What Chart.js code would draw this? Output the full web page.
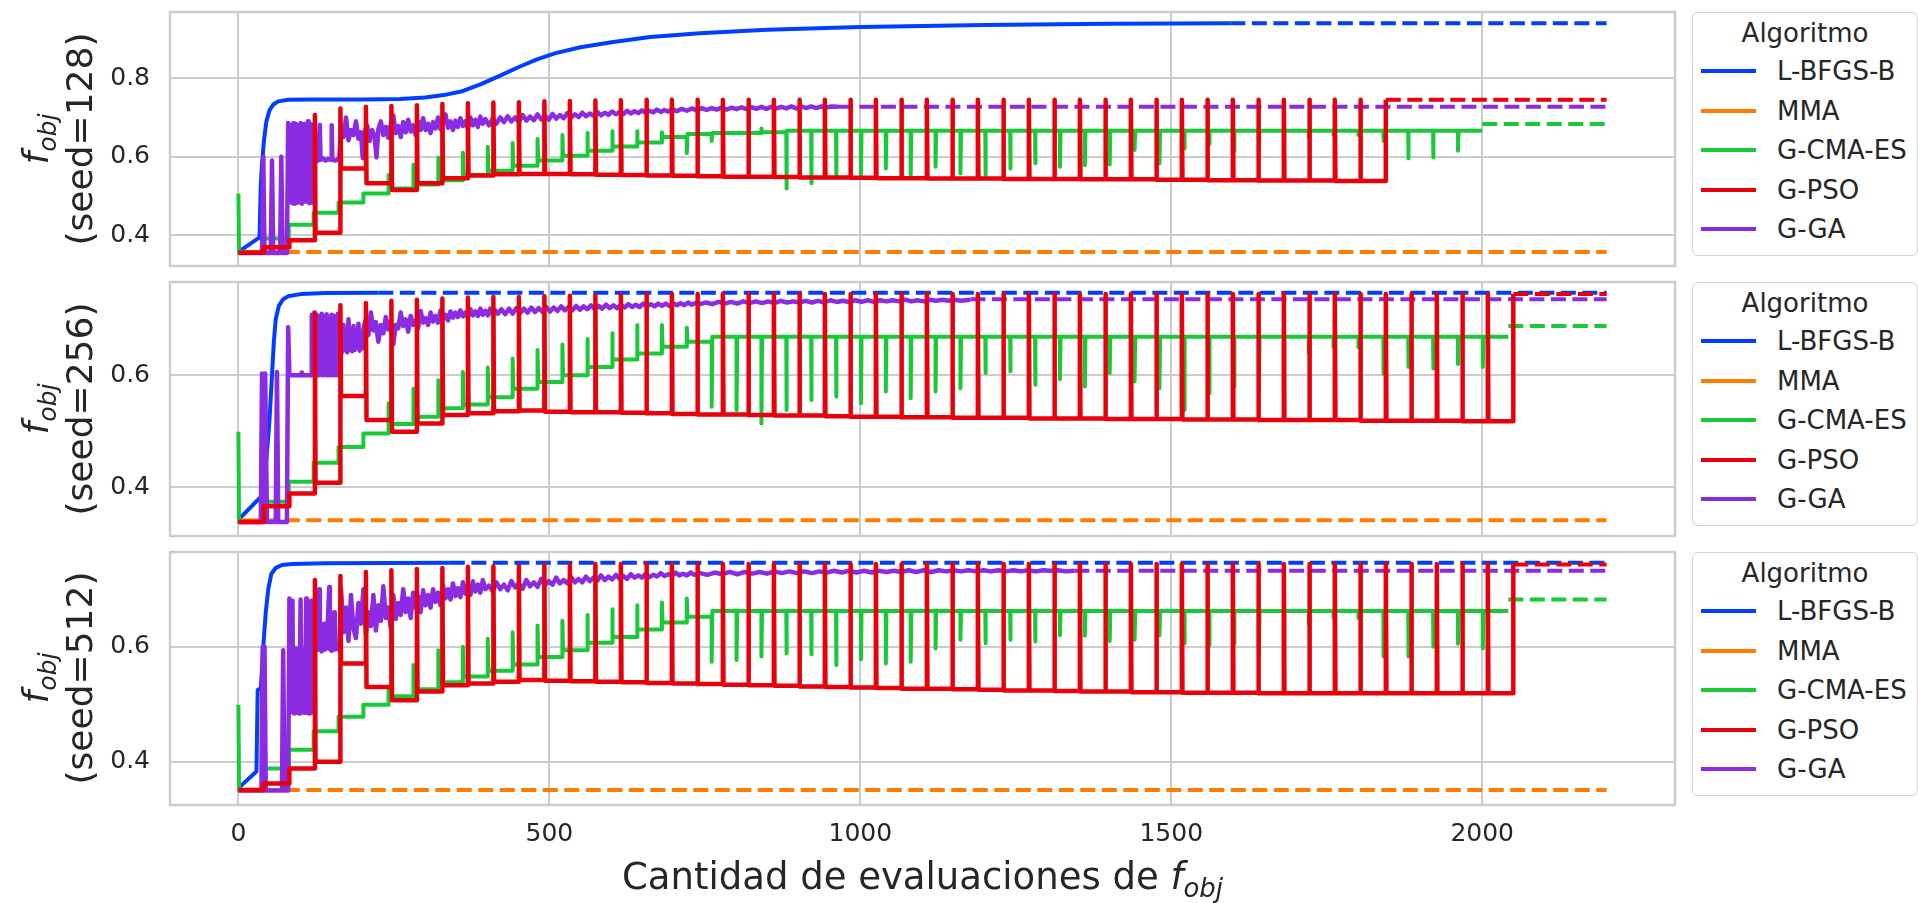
<!DOCTYPE html>
<html>
<head>
<meta charset="utf-8">
<script src="https://cdn.jsdelivr.net/npm/chart.js@4.4.0/dist/chart.umd.min.js"></script>
<style>
  html, body { margin: 0; padding: 0; background: #ffffff; }
  #fig { position: relative; width: 1918px; height: 903px; overflow: hidden;
         font-family: "DejaVu Sans", sans-serif; color: #262626; background: #ffffff; }
  #fig canvas { position: absolute; left: 0; }
  .ylab { position: absolute; width: 254px; height: 88px; line-height: 44px; font-size: 36px;
          text-align: center; white-space: nowrap; transform: rotate(-90deg); }
  .ylab sub, #xlab sub { font-size: 0.7em; vertical-align: -0.3em; line-height: 0; }
  #xlab { position: absolute; left: 170px; width: 1505px; top: 856px; font-size: 37px;
          line-height: 42px; text-align: center; white-space: nowrap; }
  .legend { position: absolute; left: 1692px; width: 226px; height: 244px; box-sizing: border-box;
            border: 1.5px solid #d4d4d4; border-radius: 6px; background: rgba(255,255,255,0.8); }
  .legend .title { position: absolute; left: 0; width: 100%; text-align: center; font-size: 26px;
                   line-height: 30px; }
  .legend .swatch { position: absolute; left: 8px; width: 55px; height: 4px; }
  .legend .label { position: absolute; left: 84px; font-size: 26px; line-height: 30px; white-space: nowrap; }
</style>
</head>
<body>
<div id="fig">
  <canvas id="c128" width="1680" height="274" style="top:2px"></canvas>
  <canvas id="c256" width="1680" height="274" style="top:272px"></canvas>
  <canvas id="c512" width="1680" height="333" style="top:542px"></canvas>
  <div class="ylab" style="left:-69px;top:95px"><i>f</i><sub><i>obj</i></sub><br>(seed=128)</div>
  <div class="ylab" style="left:-69px;top:365px"><i>f</i><sub><i>obj</i></sub><br>(seed=256)</div>
  <div class="ylab" style="left:-69px;top:634px"><i>f</i><sub><i>obj</i></sub><br>(seed=512)</div>
  <div id="xlab">Cantidad de evaluaciones de <i>f</i><sub><i>obj</i></sub></div>
</div>
<script>
// ---- shared axis data ----
const evalTicks = [0, 500, 1000, 1500, 2000];
const evalLimits = [-110, 2310];
const lastEval = 2200;
const algorithms = ['L-BFGS-B', 'MMA', 'G-CMA-ES', 'G-PSO', 'G-GA'];
const seeds = [128, 256, 512];

// Curves given as [evaluation, f_obj] pairs.
// Step tables (G-CMA-ES, G-PSO) as [evaluation, transient, level]: at that evaluation
// the curve shows a one-evaluation transient value, then holds `level`.

// ---------- seed = 128 ----------
const yTicks128 = [0.4, 0.6, 0.8];
const yRange128 = [0.321, 0.969];
const runEnd128 = [1595, 40, 2000, 1845, 964];
const best128 = [0.940, 0.357, 0.683, 0.745, 0.727];
const lbfgsb128 = [[0,0.357],[34,0.394],[36,0.53],[38,0.58],[41,0.64],[45,0.69],[50,0.718],[56,0.733],[64,0.741],
  [80,0.745],[120,0.746],[200,0.746],[260,0.747],[300,0.751],[330,0.757],[360,0.767],[390,0.785],[420,0.806],
  [450,0.828],[480,0.848],[510,0.864],[550,0.879],[600,0.892],[662,0.905],[742,0.915],[850,0.924],[1000,0.931],
  [1200,0.936],[1400,0.939],[1595,0.940]];
const mma128 = [[0,0.357],[40,0.357]];
const cmaes128 = [[0,0.506,0.355],[41,null,0.391],[81,null,0.426],[121,null,0.457],[161,null,0.483],[201,null,0.506],
  [241,0.553,0.519],[281,0.580,0.529],[321,0.598,0.540],[361,0.610,0.553],[401,0.625,0.564],[441,0.635,0.577],
  [481,0.645,0.590],[521,0.655,0.602],[561,0.660,0.615],[601,0.665,0.626],[641,0.665,0.636],[681,0.662,0.650],
  [721,0.609,0.658],[761,0.640,0.660],[801,null,0.660],[841,0.672,0.662],[881,0.519,0.666],[921,0.532,0.666],
  [961,0.553,0.666],[1001,0.553,0.666],[1041,0.570,0.666],[1081,0.553,0.666],[1121,0.574,0.666],[1161,0.557,0.666],
  [1201,0.553,0.666],[1241,0.570,0.666],[1281,0.583,0.666],[1321,0.574,0.666],[1361,0.578,0.666],[1401,0.580,0.666],
  [1441,0.617,0.666],[1481,0.583,0.666],[1521,0.621,0.666],[1561,0.632,0.666],[1601,0.615,0.666],[1641,0.630,0.666],
  [1681,0.604,0.666],[1721,0.650,0.666],[1761,0.655,0.666],[1801,0.655,0.666],[1841,0.640,0.666],[1881,0.596,0.666],
  [1921,0.598,0.666],[1961,0.615,0.666]];
const pso128 = [[0,null,0.355],[41,null,0.369],[82,null,0.387],[123,0.706,0.406],[164,0.723,0.570],[205,0.727,0.532],
  [246,0.729,0.515],[287,0.731,0.532],[328,0.734,0.545],[369,0.736,0.552],[410,0.738,0.555],[451,0.739,0.556],
  [492,0.741,0.556],[533,0.742,0.555],[574,0.743,0.554],[615,0.744,0.553],[656,0.745,0.552],[697,0.745,0.551],
  [738,0.745,0.550],[779,0.745,0.549],[820,0.745,0.549],[861,0.745,0.548],[902,0.745,0.547],[943,0.745,0.547],
  [984,0.745,0.546],[1025,0.745,0.545],[1066,0.745,0.545],[1107,0.745,0.544],[1148,0.745,0.544],[1189,0.745,0.544],
  [1230,0.745,0.543],[1271,0.745,0.543],[1312,0.745,0.543],[1353,0.745,0.542],[1394,0.745,0.542],[1435,0.745,0.542],
  [1476,0.745,0.541],[1517,0.745,0.541],[1558,0.745,0.540],[1599,0.745,0.540],[1640,0.745,0.539],[1681,0.745,0.539],
  [1722,0.745,0.539],[1763,0.745,0.538],[1804,0.745,0.538],[1845,null,0.745]];
const ga128 = [[0,0.354],[38,0.354],[40,0.600],[42,0.354],[52,0.354],[54,0.590],[56,0.354],[67,0.354],[69,0.600],
  [71,0.354],[78,0.354],[80,0.686],[82,0.592],[84,0.680],[85,0.590],[86,0.482],[87,0.592],[88,0.685],[89,0.596],
  [90,0.480],[91,0.592],[92,0.684],[93,0.594],[94,0.482],[95,0.592],[96,0.680],[97,0.590],[98,0.484],[99,0.593],
  [100,0.686],[101,0.592],[102,0.480],[104,0.592],[106,0.683],[107,0.592],[108,0.485],[110,0.592],[112,0.690],
  [113,0.592],[114,0.481],[116,0.592],[117,0.682],[118,0.592],[119,0.483],[121,0.592],[126,0.594],[128,0.590],
  [131,0.681],[132,0.592],[136,0.596],[140,0.590],[144,0.594],[149,0.592],[150,0.680],[151,0.592],[156,0.590],
  [160,0.594],[162,0.592],
  [165,0.672],[169,0.650],[173,0.700],[177,0.642],[181,0.668],[185,0.655],[189,0.690],[193,0.646],[197,0.662],
  [200,0.596],[203,0.664],[207,0.680],[211,0.640],[215,0.668],[219,0.652],[222,0.598],[225,0.670],[229,0.690],
  [233,0.655],[237,0.676],[241,0.648],[245,0.683],[249,0.705],[253,0.660],[257,0.678],[261,0.650],[265,0.688],
  [269,0.662],[273,0.694],[277,0.664],[281,0.680],[285,0.655],[289,0.690],[293,0.668],[297,0.698],[301,0.668],
  [305,0.684],[309,0.660],[313,0.688],[317,0.672],[321,0.700],[325,0.670],[329,0.686],[333,0.708],[337,0.674],
  [341,0.690],[345,0.668],[349,0.692],[353,0.676],[357,0.698],[361,0.678],[365,0.690],[369,0.672],[373,0.700],
  [377,0.680],[381,0.694],[385,0.676],[389,0.702],[393,0.684],[397,0.696],
  [403,0.680],[409,0.698],[415,0.684],[421,0.700],[427,0.688],[433,0.703],[439,0.690],[445,0.700],[451,0.688],
  [457,0.706],[463,0.692],[469,0.702],[475,0.693],[481,0.708],[487,0.695],[493,0.704],[499,0.694],[505,0.709],
  [511,0.697],[517,0.706],[523,0.698],[529,0.711],[535,0.700],[541,0.708],[547,0.701],[553,0.712],[559,0.703],
  [565,0.710],[571,0.704],[577,0.714],[583,0.705],[589,0.712],[595,0.707],[601,0.715],[607,0.708],[613,0.714],
  [619,0.709],[625,0.717],[631,0.710],[637,0.716],[643,0.711],[649,0.718],[655,0.712],[661,0.717],[667,0.713],
  [673,0.720],[679,0.714],[685,0.719],[691,0.715],[697,0.721],
  [705,0.716],[713,0.722],[721,0.717],[729,0.723],[737,0.718],[745,0.724],[753,0.719],[761,0.724],[769,0.720],
  [777,0.725],[785,0.720],[793,0.725],[801,0.721],[809,0.726],[817,0.721],[825,0.726],[833,0.722],[841,0.727],
  [849,0.722],[857,0.727],[865,0.723],[873,0.727],[881,0.723],[889,0.728],[897,0.723],[905,0.728],[913,0.724],
  [921,0.728],[929,0.724],[937,0.728],[945,0.725],[953,0.728],[964,0.727]];

// ---------- seed = 256 ----------
const yTicks256 = [0.4, 0.6];
const yRange256 = [0.313, 0.7666];
const runEnd256 = [225, 40, 2042, 2050, 1177];
const best256 = [0.7475, 0.341, 0.688, 0.745, 0.7357];
const lbfgsb256 = [[0,0.342],[36,0.383],[45,0.45],[50,0.52],[54,0.60],[57,0.66],[60,0.70],[65,0.724],[72,0.736],
  [80,0.741],[100,0.745],[140,0.7468],[225,0.7475]];
const mma256 = [[0,0.341],[40,0.341]];
const cmaes256 = [[0,0.499,0.338],[41,null,0.374],[81,null,0.410],[121,null,0.444],[161,null,0.472],[201,null,0.496],
  [241,0.550,0.513],[281,0.576,0.526],[321,0.591,0.541],[361,0.606,0.548],[401,0.614,0.561],[441,0.630,0.576],
  [481,0.645,0.588],[521,0.655,0.600],[561,0.665,0.615],[601,0.675,0.628],[641,0.690,0.639],[681,0.690,0.651],
  [721,0.685,0.660],[761,0.544,0.669],[801,0.538,0.669],[841,0.514,0.669],[881,0.538,0.669],[921,0.556,0.669],
  [961,0.562,0.669],[1001,0.550,0.669],[1041,0.571,0.669],[1081,0.559,0.669],[1121,0.571,0.669],[1161,0.577,0.669],
  [1201,0.604,0.669],[1241,0.607,0.669],[1281,0.583,0.669],[1321,0.593,0.669],[1361,0.580,0.669],[1401,0.604,0.669],
  [1441,0.589,0.669],[1481,0.577,0.669],[1521,0.538,0.669],[1561,0.568,0.669],[1601,0.580,0.669],[1641,0.577,0.669],
  [1681,0.568,0.669],[1721,0.640,0.669],[1761,0.650,0.669],[1801,0.650,0.669],[1841,0.603,0.669],[1881,0.615,0.669],
  [1921,0.612,0.669],[1961,0.620,0.669],[2001,0.615,0.669]];
const pso256 = [[0,null,0.338],[41,null,0.366],[82,null,0.389],[123,0.710,0.408],[164,0.725,0.563],[205,0.729,0.520],
  [246,0.733,0.499],[287,0.735,0.514],[328,0.737,0.529],[369,0.739,0.532],[410,0.740,0.536],[451,0.740,0.537],
  [492,0.741,0.535],[533,0.742,0.534],[574,0.743,0.534],[615,0.744,0.533],[656,0.745,0.532],[697,0.745,0.531],
  [738,0.745,0.530],[779,0.745,0.530],[820,0.745,0.529],[861,0.745,0.528],[902,0.745,0.528],[943,0.745,0.527],
  [984,0.745,0.526],[1025,0.745,0.526],[1066,0.745,0.525],[1107,0.745,0.525],[1148,0.745,0.524],[1189,0.745,0.524],
  [1230,0.745,0.524],[1271,0.745,0.523],[1312,0.745,0.523],[1353,0.745,0.523],[1394,0.745,0.522],[1435,0.745,0.522],
  [1476,0.745,0.522],[1517,0.745,0.521],[1558,0.745,0.521],[1599,0.745,0.521],[1640,0.745,0.520],[1681,0.745,0.520],
  [1722,0.745,0.520],[1763,0.745,0.520],[1804,0.745,0.519],[1845,0.745,0.519],[1886,0.745,0.519],[1927,0.745,0.519],
  [1968,0.745,0.518],[2009,0.745,0.518],[2050,null,0.745]];
const ga256 = [[0,0.338],[36,0.338],[38,0.603],[41,0.338],[43,0.603],[46,0.338],[60,0.338],[62,0.606],[64,0.338],
  [78,0.338],[80,0.686],[82,0.600],[100,0.600],[102,0.605],[104,0.600],[117,0.600],
  [118,0.708],[119,0.602],[120,0.700],[121,0.600],[122,0.712],[123,0.604],[124,0.695],[125,0.600],[126,0.708],
  [127,0.603],[128,0.690],[129,0.600],[130,0.705],[131,0.602],[132,0.698],[133,0.601],[134,0.710],[135,0.600],
  [136,0.700],[137,0.602],[138,0.706],[139,0.600],[140,0.694],[141,0.603],[142,0.709],[143,0.600],[144,0.700],
  [145,0.602],[146,0.704],[147,0.600],[148,0.690],[149,0.602],[150,0.708],[151,0.600],[152,0.698],[153,0.603],
  [154,0.706],[155,0.600],[156,0.700],[157,0.602],[158,0.695],[159,0.600],[160,0.710],[161,0.601],[162,0.690],
  [163,0.600],[165,0.680],[167,0.642],[169,0.690],[171,0.645],[173,0.676],[175,0.641],[177,0.700],[179,0.646],
  [181,0.672],[183,0.643],[185,0.688],[187,0.645],[189,0.668],[191,0.650],[193,0.692],[195,0.644],[197,0.670],
  [199,0.648],[201,0.684],
  [205,0.700],[209,0.672],[213,0.712],[217,0.680],[221,0.695],[225,0.660],[229,0.690],[233,0.675],[237,0.704],
  [241,0.682],[245,0.696],[249,0.655],[253,0.690],[257,0.684],[261,0.712],[265,0.688],[269,0.700],[273,0.678],
  [277,0.706],[281,0.690],[285,0.698],[289,0.684],[293,0.715],[297,0.694],[301,0.702],[305,0.690],[309,0.712],
  [313,0.696],[317,0.706],[321,0.694],[325,0.716],[329,0.700],[333,0.708],[337,0.698],[341,0.714],[345,0.703],
  [349,0.712],[353,0.704],[357,0.716],[361,0.705],[365,0.712],[369,0.704],[373,0.718],[377,0.707],[381,0.714],
  [385,0.706],[389,0.719],[393,0.708],[397,0.715],[401,0.707],[405,0.719],[409,0.709],[413,0.716],[417,0.710],
  [423,0.718],[429,0.709],[435,0.719],[441,0.710],[447,0.720],[453,0.711],[459,0.719],[465,0.712],[471,0.721],
  [477,0.713],[483,0.720],[489,0.713],[495,0.722],[501,0.714],[507,0.721],[513,0.715],[519,0.723],[525,0.716],
  [531,0.722],[537,0.716],[543,0.724],[549,0.717],[555,0.723],[561,0.718],[567,0.725],[573,0.718],[579,0.724],
  [585,0.719],[591,0.726],[597,0.720],[603,0.725],[609,0.720],[615,0.726],[621,0.721],[627,0.727],[633,0.722],
  [639,0.726],[645,0.722],[651,0.728],[657,0.723],[663,0.727],[669,0.723],[675,0.728],[681,0.724],[687,0.728],
  [693,0.724],[699,0.729],[705,0.725],[711,0.729],[717,0.725],[723,0.730],[729,0.726],[735,0.729],[742,0.727],
  [752,0.730],[762,0.727],[772,0.731],[782,0.728],[792,0.731],[802,0.728],[812,0.732],[822,0.729],[832,0.732],
  [842,0.729],[852,0.732],[862,0.729],[872,0.733],[882,0.730],[892,0.732],[902,0.730],[912,0.733],[922,0.730],
  [932,0.733],[942,0.730],[952,0.734],[962,0.731],[972,0.733],[982,0.731],[992,0.734],[1002,0.731],[1012,0.734],
  [1022,0.731],[1032,0.734],[1042,0.732],[1052,0.734],[1062,0.732],[1072,0.735],[1082,0.732],[1092,0.734],
  [1102,0.732],[1112,0.735],[1122,0.733],[1132,0.735],[1142,0.733],[1152,0.735],[1162,0.733],[1177,0.735]];

// ---------- seed = 512 ----------
const yTicks512 = [0.4, 0.6];
const yRange512 = [0.3247, 0.7647];
const runEnd512 = [340, 40, 2042, 2050, 1344];
const best512 = [0.746, 0.351, 0.682, 0.743, 0.732];
const lbfgsb512 = [[0,0.354],[29,0.383],[31,0.525],[36,0.527],[40,0.600],[44,0.66],[48,0.70],[53,0.727],[60,0.737],
  [70,0.742],[86,0.744],[140,0.745],[340,0.746]];
const mma512 = [[0,0.351],[40,0.351]];
const cmaes512 = [[0,0.499,0.351],[41,null,0.388],[81,null,0.421],[121,null,0.453],[161,null,0.478],[201,null,0.499],
  [241,0.525,0.514],[281,0.568,0.526],[321,0.594,0.538],[361,0.600,0.548],[401,0.614,0.558],[441,0.625,0.569],
  [481,0.637,0.582],[521,0.645,0.594],[561,0.655,0.607],[601,0.665,0.617],[641,0.672,0.630],[681,0.677,0.642],
  [721,0.684,0.652],[761,0.574,0.662],[801,0.577,0.662],[841,0.583,0.662],[881,0.588,0.662],[921,0.587,0.662],
  [961,0.568,0.662],[1001,0.578,0.662],[1041,0.571,0.662],[1081,0.574,0.662],[1121,0.597,0.662],[1161,0.612,0.662],
  [1201,0.606,0.662],[1241,0.612,0.662],[1281,0.609,0.662],[1321,0.620,0.662],[1361,0.619,0.662],[1401,0.610,0.662],
  [1441,0.612,0.662],[1481,0.620,0.662],[1521,0.606,0.662],[1561,0.603,0.662],[1601,0.606,0.662],[1641,0.588,0.662],
  [1681,0.565,0.662],[1721,0.640,0.662],[1761,0.650,0.662],[1801,0.650,0.662],[1841,0.583,0.662],[1881,0.583,0.662],
  [1921,0.600,0.662],[1961,0.605,0.662],[2001,0.597,0.662]];
const pso512 = [[0,null,0.351],[41,null,0.362],[82,null,0.388],[123,0.716,0.400],[164,0.723,0.571],[205,0.730,0.530],
  [246,0.733,0.507],[287,0.735,0.522],[328,0.737,0.533],[369,0.739,0.536],[410,0.740,0.539],[451,0.741,0.542],
  [492,0.742,0.541],[533,0.743,0.540],[574,0.744,0.539],[615,0.744,0.538],[656,0.744,0.537],[697,0.744,0.536],
  [738,0.744,0.535],[779,0.744,0.534],[820,0.744,0.533],[861,0.744,0.532],[902,0.744,0.531],[943,0.744,0.530],
  [984,0.744,0.529],[1025,0.744,0.528],[1066,0.744,0.527],[1107,0.744,0.527],[1148,0.744,0.526],[1189,0.744,0.525],
  [1230,0.744,0.524],[1271,0.744,0.524],[1312,0.744,0.523],[1353,0.744,0.522],[1394,0.744,0.522],[1435,0.744,0.521],
  [1476,0.744,0.521],[1517,0.744,0.520],[1558,0.744,0.520],[1599,0.744,0.520],[1640,0.744,0.519],[1681,0.744,0.519],
  [1722,0.744,0.519],[1763,0.744,0.519],[1804,0.744,0.519],[1845,0.744,0.519],[1886,0.744,0.519],[1927,0.744,0.519],
  [1968,0.744,0.519],[2009,0.744,0.519],[2050,null,0.743]];
const ga512 = [[0,0.350],[37,0.350],[39,0.600],[41,0.350],[42,0.600],[44,0.350],[70,0.350],[72,0.594],[74,0.350],
  [80,0.350],[82,0.684],[84,0.597],[85,0.486],[86,0.597],[87,0.680],[88,0.490],[89,0.596],[90,0.484],[91,0.597],
  [92,0.488],[93,0.590],[94,0.485],[95,0.597],[96,0.487],[97,0.595],[98,0.484],[99,0.597],[100,0.682],[101,0.486],
  [102,0.597],[103,0.490],[104,0.596],[105,0.485],[106,0.597],[107,0.487],[108,0.592],[109,0.684],[110,0.485],
  [111,0.597],[112,0.489],[113,0.596],[114,0.484],[115,0.597],[116,0.488],[117,0.680],[118,0.486],[119,0.597],
  [120,0.487],[121,0.595],[122,0.485],[123,0.597],[126,0.594],[128,0.600],[130,0.700],[131,0.596],[134,0.592],
  [138,0.640],[139,0.595],[142,0.598],[146,0.704],[147,0.596],[150,0.593],[154,0.660],[155,0.595],[158,0.598],
  [162,0.594],
  [165,0.700],[169,0.625],[173,0.668],[177,0.610],[181,0.690],[185,0.632],[189,0.615],[193,0.676],[197,0.640],
  [201,0.700],[205,0.622],[209,0.660],[213,0.636],[217,0.690],[221,0.628],[225,0.672],[229,0.645],[233,0.705],
  [237,0.650],[241,0.668],[245,0.632],[249,0.690],[253,0.648],[257,0.676],[261,0.655],[265,0.700],[269,0.660],
  [273,0.684],[277,0.650],[281,0.694],[285,0.668],[289,0.688],[293,0.660],[297,0.698],[301,0.672],[305,0.690],
  [309,0.668],[313,0.700],[317,0.678],[321,0.694],[325,0.672],[329,0.706],[333,0.684],[337,0.700],[341,0.682],
  [345,0.710],[349,0.688],[353,0.702],[357,0.686],[361,0.712],[365,0.692],[369,0.706],[373,0.690],[377,0.714],
  [381,0.696],[385,0.708],[389,0.694],[393,0.716],[397,0.700],
  [403,0.706],[409,0.696],[415,0.712],[421,0.700],[427,0.708],[433,0.698],[439,0.714],[445,0.703],[451,0.710],
  [457,0.701],[463,0.716],[469,0.705],[475,0.712],[481,0.704],[487,0.718],[493,0.707],[499,0.714],[505,0.708],
  [511,0.720],[517,0.710],[523,0.716],[529,0.710],[535,0.721],[541,0.712],[547,0.718],[553,0.712],[559,0.722],
  [565,0.714],[571,0.720],[577,0.715],[583,0.724],[589,0.716],[595,0.722],[601,0.717],[607,0.725],[613,0.718],
  [619,0.723],[625,0.718],[631,0.726],[637,0.720],[643,0.724],[649,0.720],[655,0.727],[661,0.721],[667,0.725],
  [673,0.722],[679,0.728],[685,0.723],[691,0.726],[697,0.723],[703,0.729],[709,0.724],[715,0.727],[721,0.724],
  [727,0.729],[733,0.725],[742,0.728],
  [754,0.725],[766,0.729],[778,0.726],[790,0.730],[802,0.726],[814,0.730],[826,0.727],[838,0.730],[850,0.727],
  [862,0.731],[874,0.728],[886,0.731],[898,0.728],[910,0.731],[922,0.728],[934,0.731],[946,0.729],[958,0.732],
  [970,0.729],[982,0.732],[994,0.729],[1006,0.732],[1018,0.729],[1030,0.732],[1042,0.730],[1054,0.732],[1066,0.730],
  [1078,0.733],[1090,0.730],[1102,0.733],[1114,0.730],[1126,0.733],[1138,0.731],[1150,0.733],[1162,0.731],
  [1174,0.733],[1186,0.731],[1198,0.733],[1210,0.731],[1222,0.733],[1234,0.731],[1246,0.733],[1258,0.731],
  [1270,0.733],[1282,0.731],[1294,0.733],[1306,0.732],[1318,0.733],[1330,0.731],[1344,0.732]];

// ---- drawing ----
const palette = ['#023eff', '#ff7c00', '#1ac938', '#e8000b', '#8b2be2'];
const stackOrder = [5, 4, 3, 1, 2];          // lower value is painted on top
const widths = [4, 4, 4, 4.5, 4.5];
const dash = [15, 6.5];

const pairsToPoints = pairs => pairs.map(([x, y]) => ({ x, y }));

function stepsToPoints(rows, endX) {
  const pts = [];
  rows.forEach(([x, transient, level], i) => {
    if (i > 0) pts.push({ x, y: rows[i - 1][2] });
    if (transient !== null) {
      pts.push({ x, y: transient });
      pts.push({ x: x + 1, y: level });
    } else {
      pts.push({ x, y: level });
    }
  });
  pts.push({ x: endX, y: rows[rows.length - 1][2] });
  return pts;
}

const frame = {
  id: 'frame',
  afterDatasetsDraw(chart) {
    const { ctx, chartArea: a } = chart;
    ctx.save();
    ctx.strokeStyle = '#cccccc';
    ctx.lineWidth = 2.5;
    ctx.strokeRect(a.left, a.top, a.right - a.left, a.bottom - a.top);
    ctx.restore();
  }
};

function panel(canvasId, runs, runEnd, best, yRange, yTicks, showEvalTicks) {
  const datasets = [];
  runs.forEach((pts, i) => {
    datasets.push({
      label: algorithms[i], data: pts, borderColor: palette[i], borderWidth: widths[i],
      pointRadius: 0, borderJoinStyle: 'round', borderCapStyle: 'butt', order: stackOrder[i]
    });
    datasets.push({
      label: algorithms[i] + ' (mejor)',
      data: [{ x: runEnd[i], y: best[i] }, { x: lastEval, y: best[i] }],
      borderColor: palette[i], borderWidth: 4, borderDash: dash, pointRadius: 0,
      borderCapStyle: 'butt', order: stackOrder[i]
    });
  });
  const tickFont = { family: 'DejaVu Sans', size: 25 };
  new Chart(document.getElementById(canvasId), {
    type: 'line',
    data: { datasets },
    options: {
      responsive: false, animation: false, events: [], parsing: false,
      layout: { padding: { left: 0, right: 5, top: 10, bottom: 10 } },
      plugins: { legend: { display: false }, tooltip: { enabled: false } },
      scales: {
        x: {
          type: 'linear', min: evalLimits[0], max: evalLimits[1],
          afterBuildTicks: s => { s.ticks = evalTicks.map(v => ({ value: v })); },
          afterFit: s => { s.height = showEvalTicks ? 60 : 0; s.paddingLeft = 0; s.paddingRight = 0; },
          grid: { color: '#cccccc', lineWidth: 2, drawTicks: false },
          border: { display: false },
          ticks: { display: showEvalTicks, font: tickFont, color: '#262626', padding: 14, maxRotation: 0,
                   callback: v => String(v) }
        },
        y: {
          type: 'linear', min: yRange[0], max: yRange[1],
          afterBuildTicks: s => { s.ticks = yTicks.map(v => ({ value: v })); },
          afterFit: s => { s.width = 170; s.paddingTop = 0; s.paddingBottom = 0; },
          grid: { color: '#cccccc', lineWidth: 2, drawTicks: false },
          border: { display: false },
          ticks: { font: tickFont, color: '#262626', padding: 20, callback: v => v.toFixed(1) }
        }
      }
    },
    plugins: [frame]
  });
}

panel('c128',
  [pairsToPoints(lbfgsb128), pairsToPoints(mma128), stepsToPoints(cmaes128, runEnd128[2]),
   stepsToPoints(pso128, runEnd128[3]), pairsToPoints(ga128)],
  runEnd128, best128, yRange128, yTicks128, false);
panel('c256',
  [pairsToPoints(lbfgsb256), pairsToPoints(mma256), stepsToPoints(cmaes256, runEnd256[2]),
   stepsToPoints(pso256, runEnd256[3]), pairsToPoints(ga256)],
  runEnd256, best256, yRange256, yTicks256, false);
panel('c512',
  [pairsToPoints(lbfgsb512), pairsToPoints(mma512), stepsToPoints(cmaes512, runEnd512[2]),
   stepsToPoints(pso512, runEnd512[3]), pairsToPoints(ga512)],
  runEnd512, best512, yRange512, yTicks512, true);

// ---- legends, one per panel ----
const fig = document.getElementById('fig');
[12, 282, 552].forEach(top => {
  const box = document.createElement('div');
  box.className = 'legend';
  box.style.top = top + 'px';
  let html = '<div class="title" style="top:5px">Algoritmo</div>';
  algorithms.forEach((name, i) => {
    const cy = 58 + i * 39.5;
    html += `<div class="swatch" style="top:${cy - 2}px;background:${palette[i]}"></div>` +
            `<div class="label" style="top:${cy - 15}px">${name}</div>`;
  });
  box.innerHTML = html;
  fig.appendChild(box);
});
</script>
</body>
</html>
